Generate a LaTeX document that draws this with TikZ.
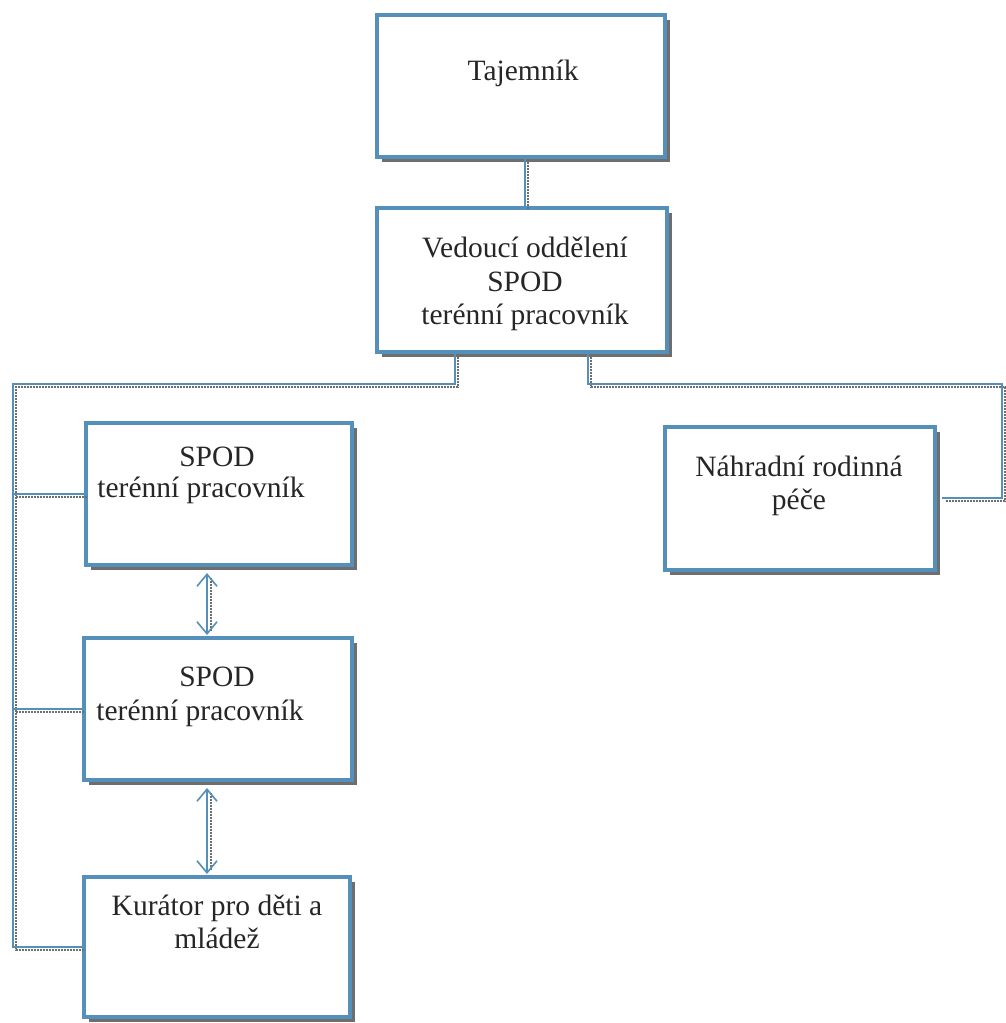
\documentclass[tikz,border=0pt]{standalone}
\usepackage{fontspec}
\setmainfont{Liberation Serif}
\usetikzlibrary{shadows,arrows.meta,patterns}
\definecolor{boxblue}{RGB}{84,144,186}
\definecolor{shadowgray}{RGB}{110,110,110}
\begin{document}
\begin{tikzpicture}[x=1pt,y=-1pt,
  orgbox/.style={draw=boxblue,line width=4pt,fill=white,inner sep=0pt,
    general shadow={shadow xshift=5pt,shadow yshift=-5pt,fill=shadowgray}},
  lbl/.style={font=\fontsize{29.5}{33.5}\selectfont,align=center,text=black!85},
  linkshadow/.style={draw=shadowgray,line width=1.4pt,dash pattern=on 2pt off 1pt},
  link/.style={draw=boxblue,line width=1.6pt},
  dblarrow/.style={draw=boxblue,line width=1.6pt,{Straight Barb[length=12pt,width=20pt]}-{Straight Barb[length=12pt,width=20pt]}}
]
\useasboundingbox (0,0) rectangle (1005,1023);
\fill[white] (0,0) rectangle (1005,1023);

% boxes
\node[orgbox,minimum width=288pt,minimum height=142pt] (taj) at (521,86) {};
\node[orgbox,minimum width=290pt,minimum height=144pt] (ved) at (522,280) {};
\node[orgbox,minimum width=266pt,minimum height=142pt] (spod1) at (219,494) {};
\node[orgbox,minimum width=268pt,minimum height=142pt] (spod2) at (218,709) {};
\node[orgbox,minimum width=266pt,minimum height=140pt] (kur) at (217,947) {};
\node[orgbox,minimum width=270pt,minimum height=143pt] (nrp) at (800,498) {};

% junction coordinates
\coordinate (jl) at (455,384);
\coordinate (jr) at (588,384);
\coordinate (cl) at (13,384);
\coordinate (cr) at (1002,384);

% connector shadows
\begin{scope}[transform canvas={shift={(3pt,-3pt)}}]
\draw[linkshadow] ([xshift=4pt]taj.south) -- ([xshift=3pt]ved.north);
\draw[linkshadow] (ved.south -| jl) -- (jl) -- (cl) -- (cl |- kur.west) -- (kur.west);
\draw[linkshadow] (cl |- spod1.west) -- (spod1.west);
\draw[linkshadow] (cl |- spod2.west) -- (spod2.west);
\draw[linkshadow] (ved.south -| jr) -- (jr) -- (cr) -- (cr |- nrp.east) -- ([xshift=5pt]nrp.east);
\draw[linkshadow] ([xshift=-11pt,yshift=-8pt]spod1.south) -- ([xshift=-10pt,yshift=8pt]spod2.north);
\draw[linkshadow] ([xshift=-10pt,yshift=-8pt]spod2.south) -- ([xshift=-9pt,yshift=8pt]kur.north);
\end{scope}

% connectors
\draw[link] ([xshift=4pt]taj.south) -- ([xshift=3pt]ved.north);
\draw[link] (ved.south -| jl) -- (jl) -- (cl) -- (cl |- kur.west) -- (kur.west);
\draw[link] (cl |- spod1.west) -- (spod1.west);
\draw[link] (cl |- spod2.west) -- (spod2.west);
\draw[link] (ved.south -| jr) -- (jr) -- (cr) -- (cr |- nrp.east) -- ([xshift=5pt]nrp.east);

% double arrows
\draw[dblarrow,shorten <=6pt,shorten >=1pt] ([xshift=-12pt]spod1.south) -- ([xshift=-11pt]spod2.north);
\draw[dblarrow,shorten <=6pt,shorten >=1pt] ([xshift=-11pt]spod2.south) -- ([xshift=-10pt]kur.north);

% labels
\node[lbl] (tajt) at (523,73) {Tajemník};
\node[lbl] (vedt) at (525,284) {Vedoucí oddělení\\SPOD\\terénní pracovník};
\node[lbl] (s1a) at (217,457) {SPOD};
\node[lbl] (s1b) at (201,490) {terénní pracovník};
\node[lbl] (s2a) at (217,677) {SPOD};
\node[lbl] (s2b) at (200,713) {terénní pracovník};
\node[lbl] (kurt) at (217,922) {Kurátor pro děti a\\mládež};
\node[lbl] (nrpt) at (799,486) {Náhradní rodinná\\péče};
\end{tikzpicture}
\end{document}
